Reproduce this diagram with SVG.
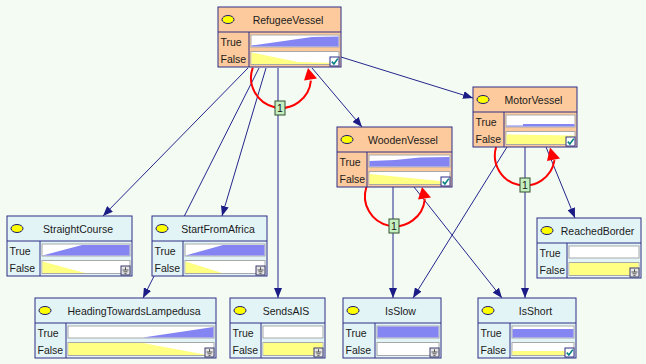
<svg xmlns="http://www.w3.org/2000/svg" width="646" height="364" viewBox="0 0 646 364">
<style>
text{font-family:"Liberation Sans",Arial,sans-serif;font-size:10.5px;fill:#1a1a1a}
.t{text-anchor:middle}
.box{stroke:#2e2e86;stroke-width:1}
.peach{fill:#fdca9d}
.cyan{fill:#e3f4f7}
.sep{stroke:#2e2e86;stroke-width:1;fill:none}
.bar{fill:#ffffff;stroke:#a9a9a9;stroke-width:1}
.blue{fill:#8484f2}
.yel{fill:#ffff84}
.eye{fill:#ffff00;stroke:#1a1a70;stroke-width:1}
.edge{stroke:#26268c;stroke-width:1;fill:none}
.red{stroke:#ff0000;stroke-width:2;fill:none}
.redh{fill:#ff0000}
.lbl{fill:#c6efc0;stroke:#305030;stroke-width:1}
</style>
<defs>
<marker id="ah" markerUnits="userSpaceOnUse" markerWidth="11" markerHeight="8" refX="10" refY="4" orient="auto">
<path d="M0,0 L10,4 L0,8 z" fill="#1c1c86"/>
</marker>
<g id="chk">
<rect x="0" y="0" width="9" height="9" fill="#ffffff" stroke="#2e2e86"/>
<path d="M1.8,4.6 L3.9,7 L7.8,1.6" stroke="#008080" stroke-width="1.6" fill="none"/>
</g>
<g id="gnd">
<rect x="0" y="0" width="9" height="9" fill="#e6e6e6" stroke="#3a3a6a"/>
<path d="M4.5,1.2 V4 M1.5,4 H7.5 M2.5,5.8 H6.5 M3.5,7.6 H5.5" stroke="#555555" stroke-width="1" fill="none"/>
</g>
</defs>
<rect x="0" y="0" width="646" height="364" fill="#f3fbf3"/>

<g id="connectors">
<path class="edge" marker-end="url(#ah)" d="M248,68 L103,216"/>
<path class="edge" marker-end="url(#ah)" d="M266,68 L222,216"/>
<path class="edge" marker-end="url(#ah)" d="M259,68 L143,298"/>
<path class="edge" marker-end="url(#ah)" d="M278,68 L278,298"/>
<path class="edge" marker-end="url(#ah)" d="M312,68 L362,127"/>
<path class="edge" marker-end="url(#ah)" d="M341,57 L473,98"/>
<path class="edge" marker-end="url(#ah)" d="M393,187 L393,298"/>
<path class="edge" marker-end="url(#ah)" d="M414,187 L502,298"/>
<path class="edge" marker-end="url(#ah)" d="M507,147 L413,298"/>
<path class="edge" marker-end="url(#ah)" d="M525,147 L525,298"/>
<path class="edge" marker-end="url(#ah)" d="M546,147 L575,218"/>

<path class="red" d="M252.8,67.7 A30,30 0 1 0 310.9,80.6"/>
<polygon class="redh" points="308,68 304,80.5 317,78.5"/>
<rect class="lbl" x="275" y="101" width="10" height="14"/>
<text class="t" x="280" y="112">1</text>

<path class="red" d="M366.4,187 A30,30 0 1 0 424.8,199.1"/>
<polygon class="redh" points="422,187 418,199.5 431,197.5"/>
<rect class="lbl" x="389" y="219" width="10" height="14"/>
<text class="t" x="394" y="230">1</text>

<path class="red" d="M496.1,147 A30,30 0 1 0 554.5,160.2"/>
<polygon class="redh" points="550,147.5 547,161 560,158.5"/>
<rect class="lbl" x="520" y="178" width="10" height="14"/>
<text class="t" x="525" y="189">1</text>
</g>

<g id="RefugeeVessel" transform="translate(218,7)">
<rect class="box peach" x="0" y="0" width="123" height="60"/>
<path class="sep" d="M0,25 H123 M31,25 V60"/>
<ellipse class="eye" cx="10" cy="12.5" rx="6" ry="4"/>
<text class="t" x="70" y="16.5">RefugeeVessel</text>
<text x="2.5" y="38.5">True</text>
<text x="2.5" y="55.5">False</text>
<rect class="bar" x="33" y="28" width="88" height="12"/>
<polygon class="blue" points="33.5,39.5 33.5,38.5 94,30 120.5,29.5 120.5,39.5"/>
<rect class="bar" x="33" y="44.5" width="88" height="13"/>
<polygon class="yel" points="33.5,45.5 80,55 120.5,56 120.5,57 33.5,57"/>
<use href="#chk" x="112" y="50"/>
</g>

<g id="MotorVessel" transform="translate(473,87)">
<rect class="box peach" x="0" y="0" width="104" height="60"/>
<path class="sep" d="M0,25 H104 M31,25 V60"/>
<ellipse class="eye" cx="10" cy="12.5" rx="6" ry="4"/>
<text class="t" x="60.5" y="16.5">MotorVessel</text>
<text x="2.5" y="38.5">True</text>
<text x="2.5" y="55.5">False</text>
<rect class="bar" x="33" y="28" width="69" height="12"/>
<polygon class="blue" points="33.5,39.5 33.5,38.5 50,38.5 50,37 101.5,37 101.5,39.5"/>
<rect class="bar" x="33" y="44.5" width="69" height="13"/>
<polygon class="yel" points="33.5,47.5 101.5,48.5 101.5,57 33.5,57"/>
<use href="#chk" x="93" y="50"/>
</g>

<g id="WoodenVessel" transform="translate(337,127)">
<rect class="box peach" x="0" y="0" width="115" height="60"/>
<path class="sep" d="M0,25 H115 M30,25 V60"/>
<ellipse class="eye" cx="10" cy="12.5" rx="6" ry="4"/>
<text class="t" x="66" y="16.5">WoodenVessel</text>
<text x="2.5" y="38.5">True</text>
<text x="2.5" y="55.5">False</text>
<rect class="bar" x="32" y="28" width="81" height="12"/>
<polygon class="blue" points="32.5,34 58,33 83,30.5 112.5,30 112.5,39.5 32.5,39.5"/>
<rect class="bar" x="32" y="44.5" width="81" height="13"/>
<polygon class="yel" points="32.5,47 63,50 103,54 112.5,54.5 112.5,57 32.5,57"/>
<use href="#chk" x="104" y="50"/>
</g>

<g id="StraightCourse" transform="translate(7,216)">
<rect class="box cyan" x="0" y="0" width="125" height="60"/>
<path class="sep" d="M0,25 H125 M33,25 V60"/>
<ellipse class="eye" cx="10" cy="12.5" rx="6" ry="4"/>
<text class="t" x="71" y="16.5">StraightCourse</text>
<text x="2.5" y="38.5">True</text>
<text x="2.5" y="55.5">False</text>
<rect class="bar" x="35" y="28" width="88" height="12"/>
<polygon class="blue" points="35.5,39.5 75,29 122.5,29 122.5,39.5"/>
<rect class="bar" x="35" y="44.5" width="88" height="13"/>
<polygon class="yel" points="35.5,45.5 78,57 35.5,57"/>
<use href="#gnd" x="114" y="50"/>
</g>

<g id="StartFromAfrica" transform="translate(152,216)">
<rect class="box cyan" x="0" y="0" width="115" height="60"/>
<path class="sep" d="M0,25 H115 M31,25 V60"/>
<ellipse class="eye" cx="10" cy="12.5" rx="6" ry="4"/>
<text class="t" x="66" y="16.5">StartFromAfrica</text>
<text x="2.5" y="38.5">True</text>
<text x="2.5" y="55.5">False</text>
<rect class="bar" x="33" y="28" width="80" height="12"/>
<polygon class="blue" points="33.5,39.5 71,29 112.5,29 112.5,39.5"/>
<rect class="bar" x="33" y="44.5" width="80" height="13"/>
<polygon class="yel" points="33.5,45.5 70,57 33.5,57"/>
<use href="#gnd" x="104" y="50"/>
</g>

<g id="ReachedBorder" transform="translate(537,218)">
<rect class="box cyan" x="0" y="0" width="104" height="60"/>
<path class="sep" d="M0,25 H104 M30,25 V60"/>
<ellipse class="eye" cx="10" cy="12.5" rx="6" ry="4"/>
<text class="t" x="60.5" y="16.5">ReachedBorder</text>
<text x="2.5" y="38.5">True</text>
<text x="2.5" y="55.5">False</text>
<rect class="bar" x="32" y="28" width="70" height="12"/>
<rect class="bar" x="32" y="44.5" width="70" height="13"/>
<rect class="yel" x="32.5" y="45" width="69" height="12"/>
<use href="#gnd" x="93" y="50"/>
</g>

<g id="HeadingTowardsLampedusa" transform="translate(35,298)">
<rect class="box cyan" x="0" y="0" width="181" height="60"/>
<path class="sep" d="M0,25 H181 M31,25 V60"/>
<ellipse class="eye" cx="10" cy="12.5" rx="6" ry="4"/>
<text class="t" x="99" y="16.5">HeadingTowardsLampedusa</text>
<text x="2.5" y="38.5">True</text>
<text x="2.5" y="55.5">False</text>
<rect class="bar" x="33" y="28" width="146" height="12"/>
<polygon class="blue" points="108,39.5 178.5,29 178.5,39.5"/>
<rect class="bar" x="33" y="44.5" width="146" height="13"/>
<polygon class="yel" points="33.5,45 108,45 172,57 33.5,57"/>
<use href="#gnd" x="170" y="50"/>
</g>

<g id="SendsAIS" transform="translate(230,298)">
<rect class="box cyan" x="0" y="0" width="95" height="60"/>
<path class="sep" d="M0,25 H95 M31,25 V60"/>
<ellipse class="eye" cx="10" cy="12.5" rx="6" ry="4"/>
<text class="t" x="56" y="16.5">SendsAIS</text>
<text x="2.5" y="38.5">True</text>
<text x="2.5" y="55.5">False</text>
<rect class="bar" x="33" y="28" width="60" height="12"/>
<rect class="bar" x="33" y="44.5" width="60" height="13"/>
<rect class="yel" x="33.5" y="45" width="59" height="12"/>
<use href="#gnd" x="84" y="50"/>
</g>

<g id="IsSlow" transform="translate(343,298)">
<rect class="box cyan" x="0" y="0" width="98" height="60"/>
<path class="sep" d="M0,25 H98 M32,25 V60"/>
<ellipse class="eye" cx="10" cy="12.5" rx="6" ry="4"/>
<text class="t" x="57.5" y="16.5">IsSlow</text>
<text x="2.5" y="38.5">True</text>
<text x="2.5" y="55.5">False</text>
<rect class="bar" x="34" y="28" width="62" height="12"/>
<rect class="blue" x="34.5" y="28.5" width="61" height="11"/>
<rect class="bar" x="34" y="44.5" width="62" height="13"/>
<use href="#gnd" x="87" y="50"/>
</g>

<g id="IsShort" transform="translate(478,298)">
<rect class="box cyan" x="0" y="0" width="98" height="60"/>
<path class="sep" d="M0,25 H98 M32,25 V60"/>
<ellipse class="eye" cx="10" cy="12.5" rx="6" ry="4"/>
<text class="t" x="57.5" y="16.5">IsShort</text>
<text x="2.5" y="38.5">True</text>
<text x="2.5" y="55.5">False</text>
<rect class="bar" x="34" y="28" width="62" height="12"/>
<rect class="blue" x="34.5" y="31" width="61" height="8.5"/>
<rect class="bar" x="34" y="44.5" width="62" height="13"/>
<rect class="yel" x="34.5" y="53" width="61" height="4"/>
<use href="#chk" x="87" y="50"/>
</g>
</svg>
